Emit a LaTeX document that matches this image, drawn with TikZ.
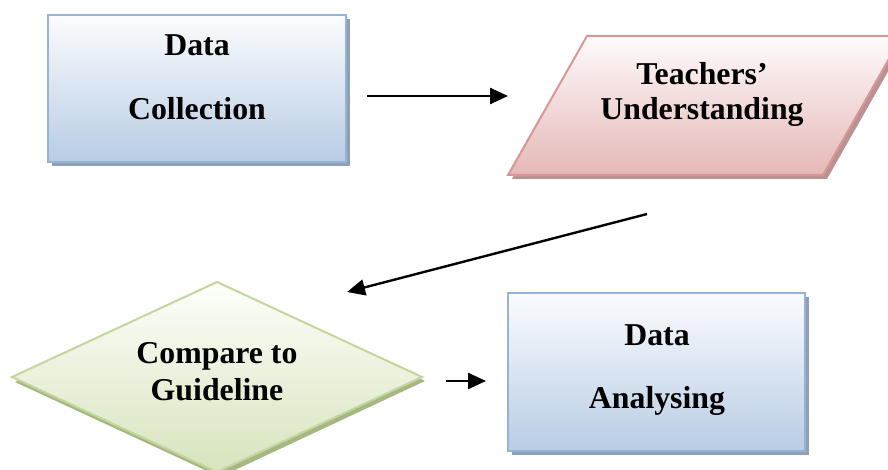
\documentclass[tikz,border=0pt]{standalone}
\usepackage{fontspec}
\setmainfont{Liberation Serif}
\usetikzlibrary{arrows.meta}

\definecolor{blueedge}{HTML}{95B3D7}
\definecolor{bluetop}{HTML}{FBFCFE}
\definecolor{bluebot}{HTML}{B8CCE4}
\definecolor{blueshadow}{HTML}{8E9FB6}
\definecolor{pinkedge}{HTML}{D99694}
\definecolor{pinktop}{HTML}{FEFBFB}
\definecolor{pinkbot}{HTML}{E5B8B7}
\definecolor{pinkshadow}{HTML}{B99393}
\definecolor{greenedge}{HTML}{C3D69B}
\definecolor{greentop}{HTML}{FDFEFB}
\definecolor{greenbot}{HTML}{D7E4BD}
\definecolor{greenshadow}{HTML}{A6B783}

\begin{document}
\begin{tikzpicture}[x=0.5pt,y=-0.5pt,
  txt/.style={anchor=base, inner sep=0pt, font=\fontsize{15.9}{18}\selectfont\bfseries},
  bluebox/.style={draw=blueedge, line width=1pt, top color=bluetop, bottom color=bluebot},
  pinkbox/.style={draw=pinkedge, line width=1pt, top color=pinktop, bottom color=pinkbot},
  greenbox/.style={draw=greenedge, line width=1pt, top color=greentop, bottom color=greenbot},
  flow/.style={line width=1.2pt, -{Triangle[length=9pt,width=8pt]}}]
\useasboundingbox (0,0) rectangle (888,470);
\clip (0,0) rectangle (888,470);

% Data Collection box
\fill[blueshadow] (52,19) rectangle (350,166);
\path[bluebox] (48,15) rectangle (346,162);
\node[txt] (dc1) at (197,56) {Data};
\node[txt] (dc2) at (197,120) {Collection};

% Teachers' Understanding parallelogram
\fill[pinkshadow] (591,40) -- (906,40) -- (827,179) -- (512,179) -- cycle;
\path[pinkbox] (587,36) -- (902,36) -- (823,175) -- (508,175) -- cycle;
\node[txt] (tu1) at (702,85) {Teachers’};
\node[txt] (tu2) at (702,120) {Understanding};

% Compare to Guideline diamond
\fill[greenshadow] (220,287) -- (425,381) -- (220,477) -- (15,382) -- cycle;
\path[greenbox] (217,282) -- (422,377) -- (217,472) -- (12,377) -- cycle;
\node[txt] (cg1) at (217,363) {Compare to};
\node[txt] (cg2) at (217,400) {Guideline};

% Data Analysing box
\fill[blueshadow] (512,297) rectangle (809,455);
\path[bluebox] (508,293) rectangle (805,451);
\node[txt] (da1) at (657,345) {Data};
\node[txt] (da2) at (657,408) {Analysing};

% connectors
\coordinate (a1s) at (367,96);
\coordinate (a1e) at (508,96);
\coordinate (a2s) at (647,214);
\coordinate (a2e) at (347,292);
\coordinate (a3s) at (446,381);
\coordinate (a3e) at (486,381);
\draw[flow] (a1s) -- (a1e);
\draw[flow] (a2s) -- (a2e);
\draw[flow] (a3s) -- (a3e);
\end{tikzpicture}
\end{document}
